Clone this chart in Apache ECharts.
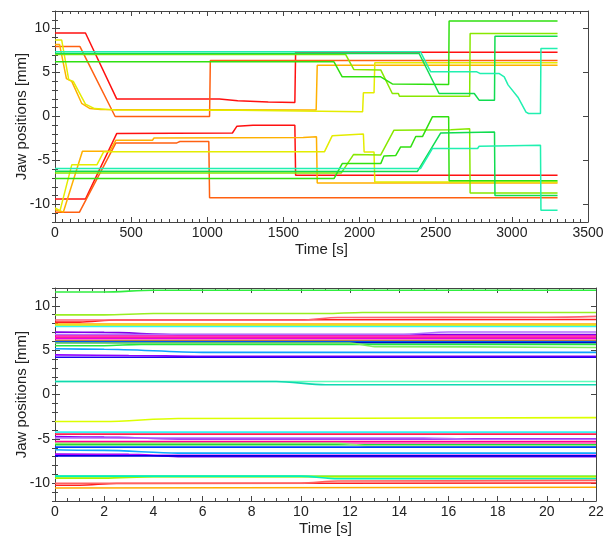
<!DOCTYPE html>
<html>
<head>
<meta charset="utf-8">
<script src="https://cdn.jsdelivr.net/npm/echarts@6/dist/echarts.min.js"></script>
<style>
  html, body { margin: 0; padding: 0; background: #fff; }
  #main { width: 610px; height: 537px; }
</style>
</head>
<body>
<div id="main"></div>
<script>
// ---- top panel: jaw positions [mm] against time [s], as [t, mm] breakpoints ----
var redUp     = [[0,9.5],[200,9.5],[405,2.0],[1080,2.0],[1090,1.8],[1200,1.8],[1210,1.7],[1400,1.65],[1575,1.6],[1580,7.3],[3300,7.3]];
var redLo     = [[0,-9.38],[200,-9.38],[405,-1.94],[1165,-1.88],[1195,-1.1],[1300,-1.0],[1575,-1.0],[1580,-6.69],[3300,-6.69]];
var orRedUp   = [[0,7.95],[164,7.95],[395,0.0],[1015,0.0],[1020,6.38],[3300,6.38]];
var orRedLo   = [[0,-10.9],[160,-10.9],[400,-3.0],[800,-3.0],[820,-2.85],[1010,-2.85],[1015,-9.23],[3300,-9.23]];
var orangeUp  = [[0,8.2],[30,8.2],[75,4.3],[110,4.0],[175,1.5],[230,0.9],[300,0.8],[1715,0.75],[1722,5.84],[3300,5.84]];
var orangeLo  = [[0,-10.6],[55,-10.86],[180,-3.95],[360,-3.95],[400,-2.7],[640,-2.7],[650,-2.45],[1630,-2.4],[1640,-2.3],[1717,-2.3],[1722,-7.56],[3300,-7.56]];
var yellowUp  = [[0,8.69],[44,8.69],[90,4.2],[120,4.0],[200,1.4],[260,0.9],[400,0.75],[1200,0.7],[2020,0.55],[2025,2.69],[2095,2.69],[2100,6.1],[3300,6.1]];
var yellowLo  = [[0,-10.4],[33,-10.7],[110,-5.5],[275,-5.5],[320,-4.0],[1770,-4.0],[1820,-2.2],[1830,-2.05],[2025,-2.0],[2030,-4.03],[2095,-4.03],[2100,-7.45],[3300,-7.45]];
var ylGreenUp = [[0,7.06],[1908,7.06],[1962,5.35],[2139,5.3],[2215,2.62],[2255,2.62],[2262,2.31],[2723,2.31],[2726,9.45],[3300,9.45]];
var ylGreenLo = [[0,-6.42],[1880,-6.42],[1960,-4.33],[2139,-4.37],[2226,-1.56],[2600,-1.5],[2723,-1.4],[2726,-8.7],[3300,-8.7]];
var greenUp   = [[0,6.22],[1832,6.22],[1886,4.51],[2139,4.51],[2215,3.7],[2585,3.64],[2588,10.85],[3300,10.85]];
var greenLo   = [[0,-7.06],[1832,-7.06],[1886,-5.36],[2139,-5.36],[2160,-4.5],[2237,-4.45],[2270,-3.46],[2336,-3.46],[2369,-2.28],[2413,-2.28],[2478,-0.04],[2585,-0.04],[2588,-7.31],[3300,-7.31]];
var sgreenUp  = [[0,7.17],[2391,7.17],[2522,2.62],[2753,2.62],[2785,1.86],[2886,1.86],[2889,9.14],[3300,9.14]];
var sgreenLo  = [[0,-6.22],[2380,-6.25],[2533,-1.87],[2886,-1.75],[2889,-8.98],[3300,-8.98]];
var cyanUp    = [[0,7.36],[2400,7.36],[2467,5.08],[2770,5.08],[2790,4.9],[2915,4.9],[2950,4.5],[2975,3.6],[3040,2.2],[3093,0.5],[3110,0.34],[3188,0.34],[3191,7.74],[3300,7.74]];
var cyanLo    = [[0,-5.92],[2400,-5.92],[2478,-3.64],[2775,-3.64],[2785,-3.38],[3188,-3.27],[3191,-10.67],[3300,-10.67]];

// ---- bottom panel: jaw positions [mm] against time [s] ----
var bUp = [
  [[0,11.55],[2,11.55],[4,11.75],[22,11.75]],
  [[0,8.97],[2,8.97],[4,9.12],[11,9.12],[12.5,9.24],[22,9.24]],
  [[0,8.15],[1,8.15],[2.5,8.4],[22,8.45]],
  [[0,8.4],[10,8.4],[11.5,8.68],[20,8.7],[22,8.8]],
  [[0,7.95],[22,7.95]],
  [[0,7.8],[22,7.8]],
  [[0,7.66],[22,7.66]],
  [[0,7.03],[2,7.0],[5,6.75],[22,6.75]],
  [[0,6.75],[14,6.75],[16,7.05],[22,7.05]],
  [[0,6.6],[22,6.6]],
  [[0,6.42],[22,6.42]],
  [[0,6.3],[22,6.3]],
  [[0,6.08],[22,6.08]],
  [[0,5.97],[22,5.97]],
  [[0,5.85],[22,5.85]],
  [[0,5.5],[2,5.5],[3.5,5.65],[22,5.65]],
  [[0,5.8],[12,5.8],[13,5.4],[22,5.3]],
  [[0,5.15],[2,5.1],[6,4.75],[22,4.75]],
  [[0,4.47],[3,4.4],[6,4.3],[22,4.3]],
  [[0,4.2],[22,4.2]],
  [[0,1.46],[22,1.46]],
  [[0,1.46],[9,1.46],[11,1.1],[22,1.1]]
];
var bLo = [
  [[0,-3.04],[2,-3.04],[5,-2.7],[22,-2.6]],
  [[0,-4.24],[22,-4.24]],
  [[0,-4.46],[22,-4.46]],
  [[0,-4.75],[2,-4.8],[5,-5.0],[22,-5.0]],
  [[0,-4.9],[15,-4.9],[17,-5.05],[22,-5.05]],
  [[0,-5.3],[22,-5.3]],
  [[0,-5.47],[22,-5.47]],
  [[0,-5.66],[22,-5.66]],
  [[0,-5.5],[11.5,-5.5],[13,-5.86],[22,-5.86]],
  [[0,-5.93],[22,-5.93]],
  [[0,-6.23],[2,-6.3],[5,-6.6],[22,-6.6]],
  [[0,-6.72],[3,-6.75],[5,-7.0],[22,-7.0]],
  [[0,-6.85],[22,-6.85]],
  [[0,-6.92],[22,-6.92]],
  [[0,-9.23],[22,-9.23]],
  [[0,-9.42],[2,-9.42],[4,-9.25],[22,-9.25]],
  [[0,-9.2],[10,-9.2],[11.5,-9.5],[22,-9.5]],
  [[0,-10.22],[1,-10.22],[2.5,-10.02],[22,-9.98]],
  [[0,-10.0],[10,-10.0],[11.5,-9.75],[22,-9.68]],
  [[0,-10.54],[22,-10.45]]
];

// tick labels
var topTimeTicks = [0, 3500, 500];
var bottomTimeTicks = [0, 22, 2];
var jawRange = [-12, 12];

// colours
var topColors = ['#ff1010', '#ff6010', '#ffb000', '#e4ec00', '#88e800', '#30e010', '#10dc50', '#20f0b0'];
var bUpColors = ['#30ee40', '#99ee22', '#ff2020', '#ff6070', '#ffaa00', '#eeee00', '#33f4f4', '#8000e8',
                 '#b070ff', '#ff00b0', '#ff2a80', '#e800e8', '#ff8000', '#0070ff', '#0010c8', '#22e840',
                 '#80ee60', '#10a0ff', '#9000ff', '#2000f0', '#60ffbb', '#10d8b0'];
var bLoColors = ['#dcff00', '#33f4f4', '#ff2050', '#8800ee', '#b070ff', '#ff0090', '#ff40b0', '#22e030',
                 '#90ee70', '#0040ff', '#10a8ff', '#9000f0', '#e800ff', '#0000e0', '#22ee22', '#a8f000',
                 '#00f0c0', '#ff2020', '#ff6060', '#ffaa00'];

var topJaws = [redUp, redLo, orRedUp, orRedLo, orangeUp, orangeLo, yellowUp, yellowLo,
               ylGreenUp, ylGreenLo, greenUp, greenLo, sgreenUp, sgreenLo, cyanUp, cyanLo];

var txt = '#222';
var frame = { color: '#444', width: 1 };
var font = 'Liberation Sans, Arial, Helvetica, sans-serif';

function xAxes(grid, ext, minorSplit) {
  var base = {
    gridIndex: grid, type: 'value', min: ext[0], max: ext[1], interval: ext[2],
    axisLine: { show: true, onZero: false, lineStyle: frame },
    axisTick: { show: true, inside: true, length: 5, lineStyle: frame },
    minorTick: { show: true, splitNumber: minorSplit, length: 3, lineStyle: frame },
    splitLine: { show: false }
  };
  var bottom = Object.assign({}, base, {
    position: 'bottom', name: 'Time [s]', nameLocation: 'middle', nameGap: 20,
    nameMoveOverlap: false,
    nameTextStyle: { fontSize: 15, color: txt, fontFamily: font },
    axisLabel: {
      fontSize: 14, color: txt, margin: 4, fontFamily: font,
      formatter: function (v) { return String(v); }
    }
  });
  var top = Object.assign({}, base, { position: 'top', axisLabel: { show: false } });
  return [bottom, top];
}

function yAxes(grid) {
  var major = {
    gridIndex: grid, type: 'value', min: jawRange[0], max: jawRange[1], splitNumber: 5,
    axisLine: { show: true, onZero: false, lineStyle: frame },
    axisTick: { show: true, inside: true, length: 5, lineStyle: frame },
    splitLine: { show: false }
  };
  var minor = {
    gridIndex: grid, type: 'value', min: jawRange[0], max: jawRange[1], interval: 1,
    axisLine: { show: false },
    axisTick: { show: true, inside: true, length: 3, lineStyle: frame },
    axisLabel: { show: false },
    splitLine: { show: false }
  };
  var left = Object.assign({}, major, {
    position: 'left', name: 'Jaw positions [mm]', nameLocation: 'middle', nameGap: 26,
    nameMoveOverlap: false,
    nameTextStyle: { fontSize: 15, color: txt, fontFamily: font },
    axisLabel: {
      fontSize: 14, color: txt, margin: 5, fontFamily: font,
      formatter: function (v) { return v % 5 === 0 ? String(v) : ''; }
    }
  });
  var right = Object.assign({}, major, { position: 'right', axisLabel: { show: false } });
  return [left, right,
          Object.assign({}, minor, { position: 'left' }),
          Object.assign({}, minor, { position: 'right' })];
}

var series = [];
topJaws.forEach(function (d, i) {
  series.push({
    type: 'line', xAxisIndex: 0, yAxisIndex: 0, data: d,
    showSymbol: false, lineStyle: { width: 1.5, color: topColors[Math.floor(i / 2)] },
    z: 2
  });
});
bUp.forEach(function (d, i) {
  series.push({
    type: 'line', xAxisIndex: 2, yAxisIndex: 4, data: d, smooth: 0.3, smoothMonotone: 'x',
    showSymbol: false, lineStyle: { width: 1.6, color: bUpColors[i] }
  });
});
bLo.forEach(function (d, i) {
  series.push({
    type: 'line', xAxisIndex: 2, yAxisIndex: 4, data: d, smooth: 0.3, smoothMonotone: 'x',
    showSymbol: false, lineStyle: { width: 1.6, color: bLoColors[i] }
  });
});

var myChart = echarts.init(document.getElementById('main'));
myChart.setOption({
  animation: false,
  backgroundColor: '#fff',
  grid: [
    { left: 55, top: 11, width: 533, height: 211 },
    { left: 55, top: 288, width: 541, height: 214 }
  ],
  xAxis: xAxes(0, topTimeTicks, 10).concat(xAxes(1, bottomTimeTicks, 4)),
  yAxis: yAxes(0).concat(yAxes(1)),
  series: series
});
</script>
</body>
</html>
